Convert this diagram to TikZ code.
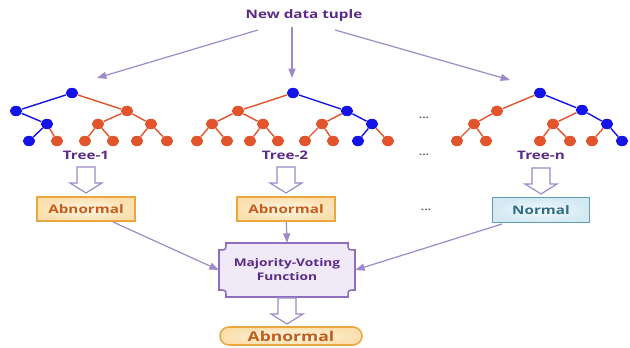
\documentclass[tikz,border=0pt]{standalone}
\usepackage{fontspec}
\usetikzlibrary{arrows.meta,shapes.geometric}
\newfontfamily\wfont[FakeStretch=1.3]{Open Sans}

\definecolor{tuplepurple}{HTML}{5B2A86}
\definecolor{lineviolet}{HTML}{9D8AC7}
\definecolor{nodeblue}{HTML}{1414E6}
\definecolor{nodeorange}{HTML}{E2542B}
\definecolor{abnborder}{HTML}{EBA640}
\definecolor{abntext}{HTML}{C25D1C}
\definecolor{abnfill}{HTML}{FBE0AE}
\definecolor{nrmborder}{HTML}{5F9DB5}
\definecolor{nrmtext}{HTML}{2F6E84}
\definecolor{nrmfill}{HTML}{D3E9F3}
\definecolor{mvborder}{HTML}{8E6FBF}
\definecolor{mvfill}{HTML}{E6DAF3}

\tikzset{
  bdot/.style={ellipse,fill=nodeblue,inner sep=0pt,minimum width=0.37cm,minimum height=0.31cm},
  odot/.style={ellipse,fill=nodeorange,inner sep=0pt,minimum width=0.37cm,minimum height=0.31cm},
  bedge/.style={draw=nodeblue,line width=1.2pt},
  oedge/.style={draw=nodeorange,line width=1.2pt},
  title/.style={font=\wfont\bfseries\fontsize{10}{12}\selectfont,text=tuplepurple},
  vline/.style={draw=lineviolet,line width=1pt,-{Triangle[length=8pt,width=6pt]}},
  hollow/.style={draw=lineviolet,line width=1pt,fill=white,line join=miter},
  hollowdown/.pic={\draw[hollow] (-9,0) -- (9,0) -- (9,16) -- (16,16) -- (0,26) -- (-16,16) -- (-9,16) -- cycle;},
  abox/.style={rectangle,draw=abnborder,line width=1.3pt,inner color=white!70!abnfill,outer color=abnfill,
    minimum width=2.94cm,minimum height=0.72cm,font=\wfont\bfseries\fontsize{10}{12}\selectfont,text=abntext},
  nbox/.style={rectangle,draw=nrmborder,line width=1.3pt,inner color=white!75!nrmfill,outer color=nrmfill,
    minimum width=2.91cm,minimum height=0.75cm,font=\wfont\bfseries\fontsize{10}{12}\selectfont,text=nrmtext},
  fbox/.style={rectangle,rounded corners=0.27cm,draw=abnborder,line width=1.3pt,inner color=white!70!abnfill,outer color=abnfill,
    minimum width=4.26cm,minimum height=0.54cm,inner sep=0pt,font=\wfont\bfseries\fontsize{11.5}{14}\selectfont,text=abntext},
  ell/.style={font=\wfont\bfseries\fontsize{8}{9}\selectfont,text=black!60},
}

\begin{document}
\begin{tikzpicture}[x=0.03cm,y=-0.03cm]
\useasboundingbox[fill=white] (0,0) rectangle (630,348);

% input
\node[title] (tuple) at (304,15) {New data tuple};
\coordinate (s1) at (258,30);
\coordinate (s2) at (292,27);
\coordinate (s3) at (335,30);
\coordinate (e1) at (97,78);
\coordinate (e2) at (292,78);
\coordinate (e3) at (510,80);
\draw[vline] (s1) -- (e1);
\draw[vline] (s2) -- (e2);
\draw[vline] (s3) -- (e3);

% tree 1
\node[bdot] (a) at (72,93) {};
\node[bdot] (aL) at (16,111) {};
\node[odot] (aR) at (127,111) {};
\node[bdot] (aLL) at (47,124) {};
\node[odot] (aRL) at (98,124) {};
\node[odot] (aRR) at (151,124) {};
\node[bdot] (aLLa) at (29,141) {};
\node[odot] (aLLb) at (57,141) {};
\node[odot] (aRLa) at (85,141) {};
\node[odot] (aRLb) at (113,141) {};
\node[odot] (aRRa) at (137,141) {};
\node[odot] (aRRb) at (167,141) {};
\draw[bedge] (a) -- (aL);
\draw[oedge] (a) -- (aR);
\draw[bedge] (aL) -- (aLL);
\draw[bedge] (aLL) -- (aLLa);
\draw[oedge] (aLL) -- (aLLb);
\draw[oedge] (aR) -- (aRL);
\draw[oedge] (aR) -- (aRR);
\draw[oedge] (aRL) -- (aRLa);
\draw[oedge] (aRL) -- (aRLb);
\draw[oedge] (aRR) -- (aRRa);
\draw[oedge] (aRR) -- (aRRb);

% tree 2
\node[bdot] (b) at (293,93) {};
\node[odot] (bL) at (238,111) {};
\node[bdot] (bR) at (347,111) {};
\node[odot] (bLL) at (212,124) {};
\node[odot] (bLR) at (263,124) {};
\node[odot] (bRL) at (322,124) {};
\node[bdot] (bRR) at (372,124) {};
\node[odot] (bLLa) at (197,141) {};
\node[odot] (bLLb) at (227,141) {};
\node[odot] (bLRa) at (250,141) {};
\node[odot] (bLRb) at (278,141) {};
\node[odot] (bRLa) at (305,141) {};
\node[odot] (bRLb) at (333,141) {};
\node[bdot] (bRRa) at (358,141) {};
\node[odot] (bRRb) at (388,141) {};
\draw[oedge] (b) -- (bL);
\draw[bedge] (b) -- (bR);
\draw[oedge] (bL) -- (bLL);
\draw[oedge] (bL) -- (bLR);
\draw[oedge] (bR) -- (bRL);
\draw[bedge] (bR) -- (bRR);
\draw[oedge] (bLL) -- (bLLa);
\draw[oedge] (bLL) -- (bLLb);
\draw[oedge] (bLR) -- (bLRa);
\draw[oedge] (bLR) -- (bLRb);
\draw[oedge] (bRL) -- (bRLa);
\draw[oedge] (bRL) -- (bRLb);
\draw[bedge] (bRR) -- (bRRa);
\draw[oedge] (bRR) -- (bRRb);

% tree n
\node[bdot] (c) at (540,93) {};
\node[odot] (cL) at (497,111) {};
\node[bdot] (cR) at (582,110) {};
\node[odot] (cLL) at (474,124) {};
\node[odot] (cRL) at (553,124) {};
\node[bdot] (cRR) at (607,124) {};
\node[odot] (cLLa) at (457,141) {};
\node[odot] (cLLb) at (486,141) {};
\node[odot] (cRLa) at (540,141) {};
\node[odot] (cRLb) at (570,141) {};
\node[odot] (cRRa) at (592,141) {};
\node[bdot] (cRRb) at (622,141) {};
\draw[oedge] (c) -- (cL);
\draw[bedge] (c) -- (cR);
\draw[oedge] (cL) -- (cLL);
\draw[oedge] (cR) -- (cRL);
\draw[bedge] (cR) -- (cRR);
\draw[oedge] (cLL) -- (cLLa);
\draw[oedge] (cLL) -- (cLLb);
\draw[oedge] (cRL) -- (cRLa);
\draw[oedge] (cRL) -- (cRLb);
\draw[oedge] (cRR) -- (cRRa);
\draw[bedge] (cRR) -- (cRRb);

% ellipses between tree 2 and tree n
\node[ell] (d1) at (424,118) {...};
\node[ell] (d2) at (424,155) {...};
\node[ell] (d3) at (426,210) {...};

% tree labels
\node[title] (l1) at (86,155) {Tree-1};
\node[title] (l2) at (285,155) {Tree-2};
\node[title] (ln) at (541,155) {Tree-n};

% tree outputs
\pic (h1) at (86,167) {hollowdown};
\pic (h2) at (286,167) {hollowdown};
\pic (hn) at (541,168) {hollowdown};
\node[abox] (o1) at (86,209) {Abnormal};
\node[abox] (o2) at (286,209) {Abnormal};
\node[nbox] (on) at (541,210) {Normal};

% voting box with concave corners
\fill[mvfill!60!white,draw=mvborder,line width=1.3pt]
  (226,243) -- (348,243) .. controls (348,250) .. (355,250)
  -- (355,290) .. controls (348,290) .. (348,297)
  -- (226,297) .. controls (226,290) .. (219,290)
  -- (219,250) .. controls (226,250) .. (226,243) -- cycle;
\node[align=center,font=\wfont\bfseries\fontsize{9}{12}\selectfont,text=tuplepurple,
  minimum width=4.08cm,minimum height=1.62cm] (mv) at (287,270) {Majority-Voting\\Function};

\coordinate (o1s) at (113,222);
\coordinate (ons) at (502,224);
\draw[vline] (o1s) -- (mv.west);
\draw[vline] (o2) -- (mv.north);
\draw[vline] (ons) -- (mv.east);

% final decision
\pic (hf) at (287,298) {hollowdown};
\node[fbox] (final) at (291,336) {Abnormal};
\end{tikzpicture}
\end{document}
